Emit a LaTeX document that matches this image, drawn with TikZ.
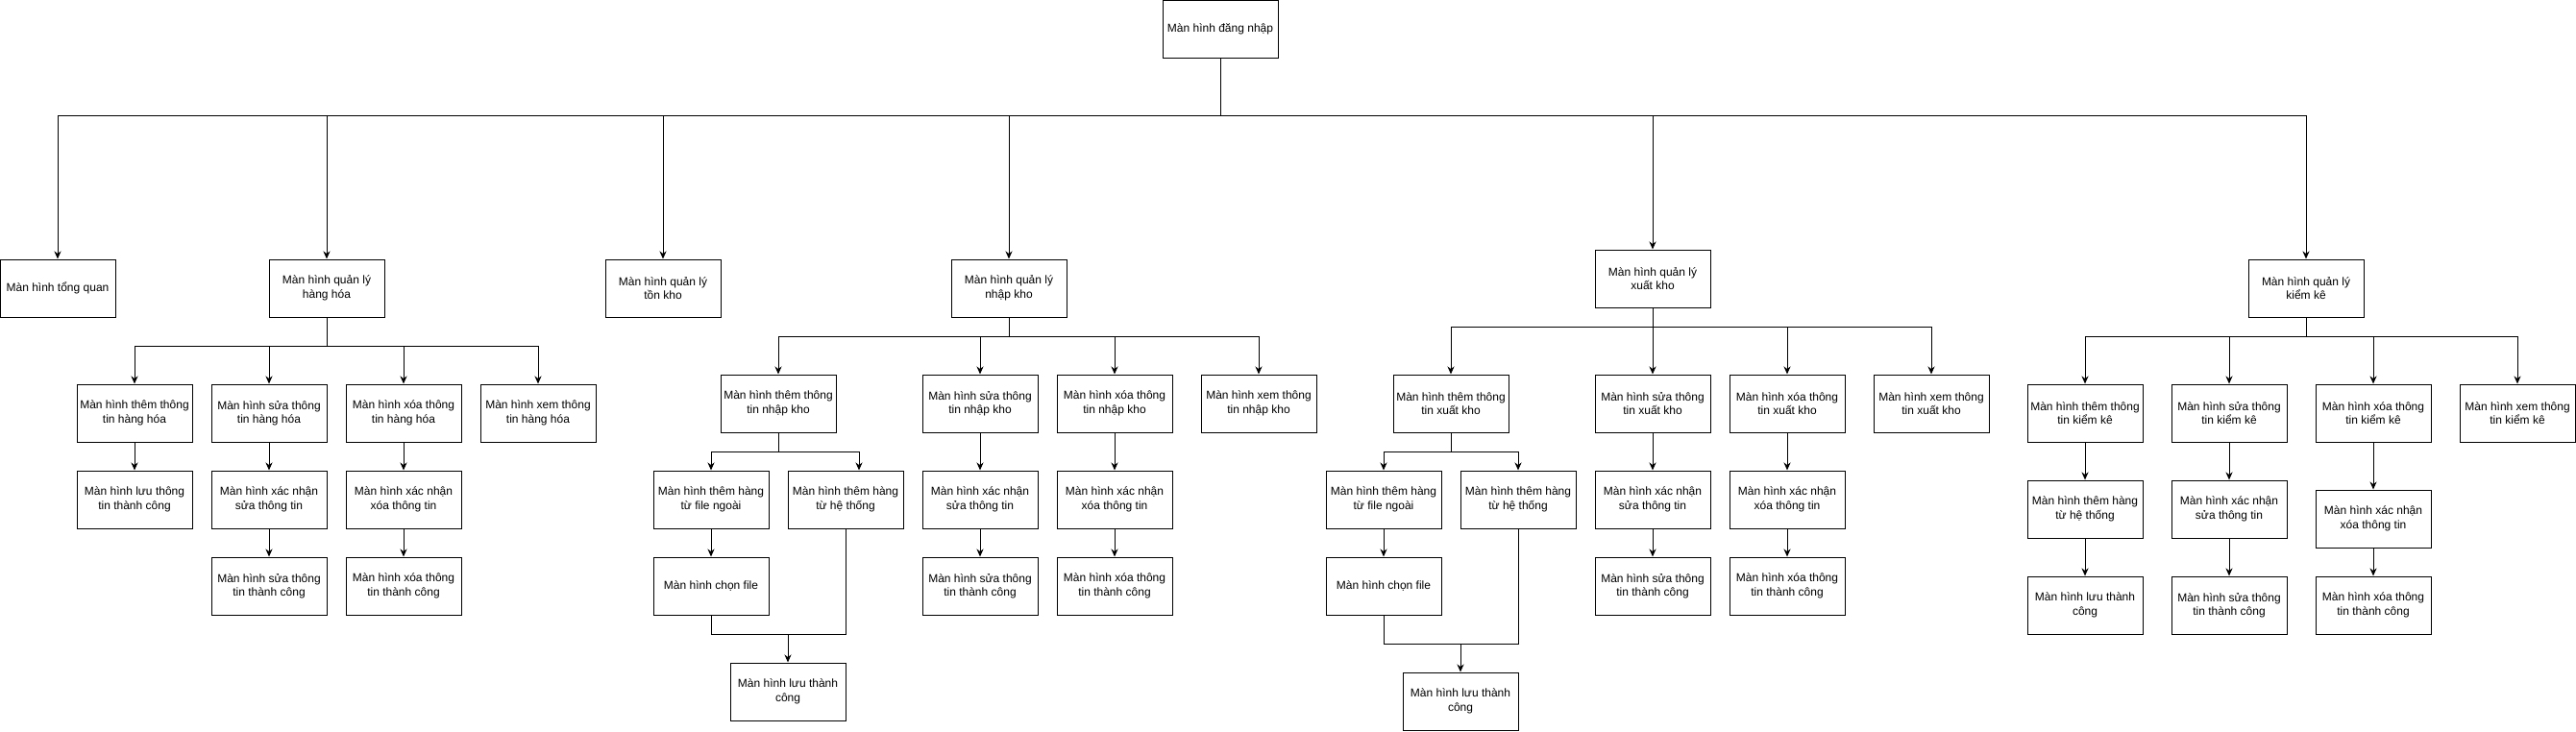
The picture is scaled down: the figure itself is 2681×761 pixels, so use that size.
\documentclass[tikz,border=0pt]{standalone}
\usepackage{fontspec}
\setmainfont{Liberation Sans}
\usetikzlibrary{arrows.meta}
\begin{document}
\begin{tikzpicture}[x=1pt,y=-1pt,
  box/.style={draw,line width=1pt,minimum width=120pt,minimum height=60pt,inner sep=0pt,align=center,font=\fontsize{12}{14.5}\selectfont},
  conn/.style={line width=1pt},
  arr/.style={conn,-{Stealth[length=8pt,width=7pt,inset=2.5pt]}}]
\useasboundingbox (0,0) rectangle (2681,761);
% top
\node[box] (login) at (1270,30) {Màn hình đăng nhập};
\node[box] (tq) at (60,300) {Màn hình tổng quan};
\node[box] (hh) at (340,300) {Màn hình quản lý\\hàng hóa};
\node[box] (tk) at (690,300) {Màn hình quản lý\\tồn kho};
\node[box] (nk) at (1050,300) {Màn hình quản lý\\nhập kho};
\node[box] (xk) at (1720,290) {Màn hình quản lý\\xuất kho};
\node[box] (kk) at (2400,300) {Màn hình quản lý\\kiểm kê};
% hang hoa
\node[box] (hhA1) at (140,430) {Màn hình thêm thông\\tin hàng hóa};
\node[box] (hhA2) at (280,430) {Màn hình sửa thông\\tin hàng hóa};
\node[box] (hhA3) at (420,430) {Màn hình xóa thông\\tin hàng hóa};
\node[box] (hhA4) at (560,430) {Màn hình xem thông\\tin hàng hóa};
\node[box] (hhB1) at (140,520) {Màn hình lưu thông\\tin thành công};
\node[box] (hhB2) at (280,520) {Màn hình xác nhận\\sửa thông tin};
\node[box] (hhB3) at (420,520) {Màn hình xác nhận\\xóa thông tin};
\node[box] (hhC2) at (280,610) {Màn hình sửa thông\\tin thành công};
\node[box] (hhC3) at (420,610) {Màn hình xóa thông\\tin thành công};
% nhap kho
\node[box] (nkA1) at (810,420) {Màn hình thêm thông\\tin nhập kho};
\node[box] (nkA2) at (1020,420) {Màn hình sửa thông\\tin nhập kho};
\node[box] (nkA3) at (1160,420) {Màn hình xóa thông\\tin nhập kho};
\node[box] (nkA4) at (1310,420) {Màn hình xem thông\\tin nhập kho};
\node[box] (nkF) at (740,520) {Màn hình thêm hàng\\từ file ngoài};
\node[box] (nkS) at (880,520) {Màn hình thêm hàng\\từ hệ thống};
\node[box] (nkC) at (740,610) {Màn hình chọn file};
\node[box] (nkL) at (820,720) {Màn hình lưu thành\\công};
\node[box] (nkB2) at (1020,520) {Màn hình xác nhận\\sửa thông tin};
\node[box] (nkB3) at (1160,520) {Màn hình xác nhận\\xóa thông tin};
\node[box] (nkC2) at (1020,610) {Màn hình sửa thông\\tin thành công};
\node[box] (nkC3) at (1160,610) {Màn hình xóa thông\\tin thành công};
% xuat kho
\node[box] (xkA1) at (1510,420) {Màn hình thêm thông\\tin xuất kho};
\node[box] (xkA2) at (1720,420) {Màn hình sửa thông\\tin xuất kho};
\node[box] (xkA3) at (1860,420) {Màn hình xóa thông\\tin xuất kho};
\node[box] (xkA4) at (2010,420) {Màn hình xem thông\\tin xuất kho};
\node[box] (xkF) at (1440,520) {Màn hình thêm hàng\\từ file ngoài};
\node[box] (xkS) at (1580,520) {Màn hình thêm hàng\\từ hệ thống};
\node[box] (xkC) at (1440,610) {Màn hình chọn file};
\node[box] (xkL) at (1520,730) {Màn hình lưu thành\\công};
\node[box] (xkB2) at (1720,520) {Màn hình xác nhận\\sửa thông tin};
\node[box] (xkB3) at (1860,520) {Màn hình xác nhận\\xóa thông tin};
\node[box] (xkC2) at (1720,610) {Màn hình sửa thông\\tin thành công};
\node[box] (xkC3) at (1860,610) {Màn hình xóa thông\\tin thành công};
% kiem ke
\node[box] (kkA1) at (2170,430) {Màn hình thêm thông\\tin kiểm kê};
\node[box] (kkA2) at (2320,430) {Màn hình sửa thông\\tin kiểm kê};
\node[box] (kkA3) at (2470,430) {Màn hình xóa thông\\tin kiểm kê};
\node[box] (kkA4) at (2620,430) {Màn hình xem thông\\tin kiểm kê};
\node[box] (kkB1) at (2170,530) {Màn hình thêm hàng\\từ hệ thống};
\node[box] (kkB2) at (2320,530) {Màn hình xác nhận\\sửa thông tin};
\node[box] (kkB3) at (2470,540) {Màn hình xác nhận\\xóa thông tin};
\node[box] (kkC1) at (2170,630) {Màn hình lưu thành\\công};
\node[box] (kkC2) at (2320,630) {Màn hình sửa thông\\tin thành công};
\node[box] (kkC3) at (2470,630) {Màn hình xóa thông\\tin thành công};
% bus levels
\coordinate (b0) at (0,120);
\coordinate (hhb) at (0,360);
\coordinate (nkb) at (0,350);
\coordinate (xkb) at (0,340);
\coordinate (kkb) at (0,350);
\coordinate (nkt) at (0,470);
\coordinate (xkt) at (0,470);
\coordinate (nkm) at (0,660);
\coordinate (xkm) at (0,670);
% top connectors
\foreach \c in {tq,hh,tk,nk,xk,kk}
  \draw[arr] (login.south) -- (login.south |- b0) -| (\c.north);
\foreach \c in {hhA1,hhA2,hhA3,hhA4}
  \draw[arr] (hh.south) -- (hh.south |- hhb) -| (\c.north);
\foreach \c in {nkA1,nkA2,nkA3,nkA4}
  \draw[arr] (nk.south) -- (nk.south |- nkb) -| (\c.north);
\foreach \c in {xkA1,xkA2,xkA3,xkA4}
  \draw[arr] (xk.south) -- (xk.south |- xkb) -| (\c.north);
\foreach \c in {kkA1,kkA2,kkA3,kkA4}
  \draw[arr] (kk.south) -- (kk.south |- kkb) -| (\c.north);
% hang hoa chains
\draw[arr] (hhA1.south) -- (hhB1.north);
\draw[arr] (hhA2.south) -- (hhB2.north);
\draw[arr] (hhA3.south) -- (hhB3.north);
\draw[arr] (hhB2.south) -- (hhC2.north);
\draw[arr] (hhB3.south) -- (hhC3.north);
% nhap kho chains
\draw[arr] (nkA1.south) -- (nkA1.south |- nkt) -| (nkF.north);
\draw[arr] (nkA1.south) -- (nkA1.south |- nkt) -| ([xshift=14pt]nkS.north);
\draw[arr] (nkF.south) -- (nkC.north);
\draw[conn] (nkC.south) -- (nkC.south |- nkm) -| (nkS.south);
\draw[arr] (nkL.north |- nkm) -- (nkL.north);
\draw[arr] (nkA2.south) -- (nkB2.north);
\draw[arr] (nkA3.south) -- (nkB3.north);
\draw[arr] (nkB2.south) -- (nkC2.north);
\draw[arr] (nkB3.south) -- (nkC3.north);
% xuat kho chains
\draw[arr] (xkA1.south) -- (xkA1.south |- xkt) -| (xkF.north);
\draw[arr] (xkA1.south) -- (xkA1.south |- xkt) -| (xkS.north);
\draw[arr] (xkF.south) -- (xkC.north);
\draw[conn] (xkC.south) -- (xkC.south |- xkm) -| (xkS.south);
\draw[arr] (xkL.north |- xkm) -- (xkL.north);
\draw[arr] (xkA2.south) -- (xkB2.north);
\draw[arr] (xkA3.south) -- (xkB3.north);
\draw[arr] (xkB2.south) -- (xkC2.north);
\draw[arr] (xkB3.south) -- (xkC3.north);
% kiem ke chains
\draw[arr] (kkA1.south) -- (kkB1.north);
\draw[arr] (kkA2.south) -- (kkB2.north);
\draw[arr] (kkA3.south) -- (kkB3.north);
\draw[arr] (kkB1.south) -- (kkC1.north);
\draw[arr] (kkB2.south) -- (kkC2.north);
\draw[arr] (kkB3.south) -- (kkC3.north);
\end{tikzpicture}
\end{document}
